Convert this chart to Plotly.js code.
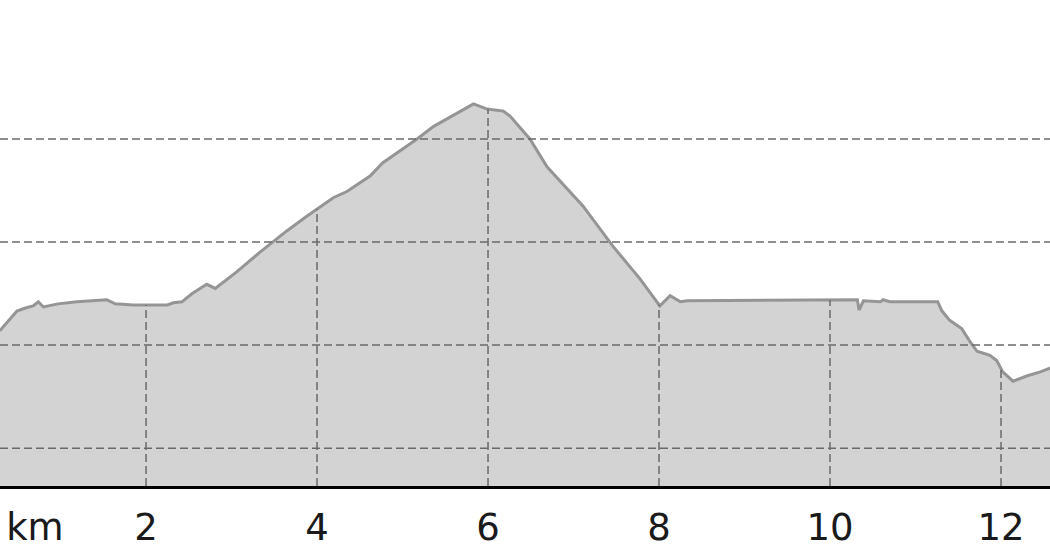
<!DOCTYPE html>
<html>
<head>
<meta charset="utf-8">
<script src="https://cdn.plot.ly/plotly-3.0.1.min.js"></script>
<style>
  html, body { margin: 0; padding: 0; background: #fff; }
  #myDiv { width: 1050px; height: 560px; }
</style>
</head>
<body>
<div id="myDiv"></div>
<script>
// distance along the route (km) and elevation (m)
const distKm = [0.29, 0.49, 0.59, 0.68, 0.74, 0.80, 0.97, 1.19, 1.54, 1.64, 1.85, 2.25, 2.32, 2.42,
  2.54, 2.67, 2.71, 2.81, 3.06, 3.33, 3.65, 3.88, 4.00, 4.19, 4.35, 4.62, 4.77, 5.17, 5.36, 5.67,
  5.83, 5.99, 6.18, 6.26, 6.49, 6.69, 7.11, 7.46, 7.78, 8.01, 8.13, 8.25, 8.33, 10.32, 10.34, 10.39,
  10.59, 10.62, 10.70, 11.26, 11.31, 11.40, 11.54, 11.64, 11.72, 11.87, 11.95, 12.02, 12.14, 12.30,
  12.46, 12.58];
const elevM = [214, 233, 236, 238, 242, 237, 240, 242, 244, 240, 239, 239, 241, 242,
  250, 257, 259, 255, 271, 290, 311, 325, 332, 343, 349, 364, 377, 400, 412, 426,
  434, 429, 427, 422, 400, 373, 335, 296, 264, 238, 248, 242, 243, 244, 234, 243,
  242, 244, 242, 242, 233, 224, 216, 203, 194, 190, 185, 174, 165, 170,
  174, 178];

const tickVals = [0.7, 2, 4, 6, 8, 10, 12];
const tickText = ['km', '2', '4', '6', '8', '10', '12'];
const gridElev = [100, 200, 300, 400];

const xRange = [0.292, 12.573];
const yRange = [63.3, 534.8];

// elevation at a given distance, so the vertical grid stops at the profile
function elevAt(x) {
  for (let i = 1; i < distKm.length; i++) {
    if (x <= distKm[i]) {
      const t = (x - distKm[i-1]) / (distKm[i] - distKm[i-1]);
      return elevM[i-1] + t * (elevM[i] - elevM[i-1]);
    }
  }
  return elevM[elevM.length-1];
}

const gridColor = '#6a6a6a';
const gridDash = '8px,4px';

let vx = [];
let vy = [];
tickVals.slice(1).forEach((x) => {
  vx.push(x, x, null);
  vy.push(yRange[0], elevAt(x), null);
});

const profile = {
  x: distKm,
  y: elevM,
  type: 'scatter',
  mode: 'lines',
  fill: 'tozeroy',
  fillcolor: '#d3d3d3',
  line: {color: '#959595', width: 3},
  hoverinfo: 'skip'
};

const vgrid = {
  x: vx,
  y: vy,
  type: 'scatter',
  mode: 'lines',
  line: {color: gridColor, width: 1.5, dash: gridDash},
  hoverinfo: 'skip'
};

const shapes = gridElev.map((v) => ({
  type: 'line',
  xref: 'paper', x0: 0, x1: 1,
  yref: 'y', y0: v, y1: v,
  layer: 'above',
  line: {color: gridColor, width: 1.5, dash: gridDash}
}));

const layout = {
  width: 1050,
  height: 560,
  margin: {l: 0, r: 0, t: 0, b: 74, pad: 0},
  paper_bgcolor: '#ffffff',
  plot_bgcolor: '#ffffff',
  showlegend: false,
  shapes: shapes,
  xaxis: {
    range: xRange,
    showgrid: false,
    zeroline: false,
    showline: true,
    linecolor: '#000000',
    linewidth: 2.5,
    ticks: '',
    tickvals: tickVals,
    ticktext: tickText,
    tickfont: {family: 'DejaVu Sans', size: 37, color: '#1a1a1a'},
    ticklabelstandoff: 7,
    fixedrange: true
  },
  yaxis: {
    range: yRange,
    visible: false,
    showgrid: false,
    zeroline: false,
    fixedrange: true
  }
};

Plotly.newPlot('myDiv', [profile, vgrid], layout, {staticPlot: true});
</script>
</body>
</html>
